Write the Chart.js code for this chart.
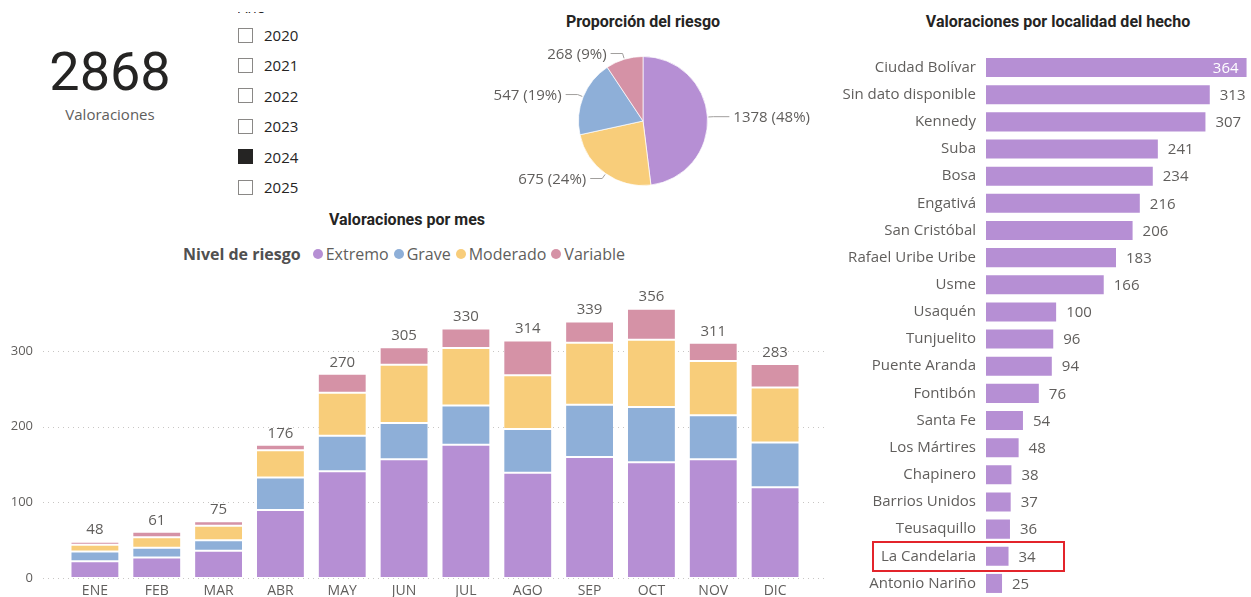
<!DOCTYPE html>
<html>
<head>
<meta charset="utf-8">
<script src="https://cdn.jsdelivr.net/npm/chart.js@4.4.1/dist/chart.umd.min.js"></script>
<style>
body{margin:0;width:1251px;height:597px;position:relative;overflow:hidden;background:#fff;font-family:'Segoe UI','Open Sans',sans-serif;color:#252423;}
.abs{position:absolute;}
.title{font-family:Roboto,sans-serif;font-weight:bold;font-size:16px;color:#252423;white-space:nowrap;}
.kpi{left:0;width:220px;text-align:center;}
.row{left:238px;height:20px;display:flex;align-items:center;font-size:15px;}
.box{width:13px;height:13px;border:1px solid #8a8886;margin-right:11px;box-sizing:content-box;}
.box.on{background:#252423;border-color:#252423;}
.legend{left:183px;top:243px;display:flex;align-items:center;font-size:16px;color:#605E5C;white-space:nowrap;}
.legend b{color:#505050;margin-right:9px;font-weight:bold;}
.dot{width:10px;height:10px;border-radius:50%;display:inline-block;margin:0 3px 0 3px;}
</style>
</head>
<body>
<!-- ========== KPI ========== -->
<div class="abs kpi" style="top:42px;font-family:Roboto,sans-serif;font-size:54px;line-height:60px;color:#252423;">2868</div>
<div class="abs kpi" style="top:104px;font-size:15px;color:#605E5C;">Valoraciones</div>

<!-- ========== Slicer ========== -->
<div class="abs" style="left:238px;top:12px;height:4px;width:60px;overflow:hidden;"><div style="position:absolute;top:-15px;font-size:15px;color:#252423;">Año</div></div>
<div id="slicer"></div>

<!-- ========== Titles ========== -->
<div class="abs title" style="left:643px;top:12px;transform:translateX(-50%);">Proporción del riesgo</div>
<div class="abs title" style="left:407px;top:210px;transform:translateX(-50%);">Valoraciones por mes</div>
<div class="abs title" style="left:1058px;top:12px;transform:translateX(-50%);">Valoraciones por localidad del hecho</div>

<div class="abs legend" id="legend"></div>

<canvas id="pieChart" class="abs" style="left:473px;top:40px;" width="340" height="162"></canvas>
<canvas id="mesChart" class="abs" style="left:0;top:283px;" width="840" height="314"></canvas>
<canvas id="locChart" class="abs" style="left:840px;top:54px;" width="411" height="543"></canvas>

<script>
// ========== Data ==========
const years=['2020','2021','2022','2023','2024','2025'];
const selectedYear='2024';

const months=['ENE','FEB','MAR','ABR','MAY','JUN','JUL','AGO','SEP','OCT','NOV','DIC'];
const extremo=[22,27,36,90,141,157,176,139,160,153,157,120];
const grave=[13,13,14,43,47,48,52,58,69,73,58,59];
const moderado=[9,14,19,36,57,77,76,71,82,89,72,73];
const variable=[4,7,6,7,25,23,26,46,28,41,24,31];
const monthTotals=[48,61,75,176,270,305,330,314,339,356,311,283];
const yTicks=[0,100,200,300];

const riesgoLabels=['Extremo','Moderado','Grave','Variable'];
const riesgoValues=[1378,675,547,268];

const localidades=['Ciudad Bolívar','Sin dato disponible','Kennedy','Suba','Bosa','Engativá','San Cristóbal','Rafael Uribe Uribe','Usme','Usaquén','Tunjuelito','Puente Aranda','Fontibón','Santa Fe','Los Mártires','Chapinero','Barrios Unidos','Teusaquillo','La Candelaria','Antonio Nariño'];
const localidadValues=[364,313,307,241,234,216,206,183,166,100,96,94,76,54,48,38,37,36,34,25];
const highlighted='La Candelaria';

const colors={Extremo:'#B68FD4',Grave:'#8EAFD8',Moderado:'#F8CD7A',Variable:'#D592A6'};
const FONT="'Segoe UI','Open Sans',sans-serif";
const GRAY='#605E5C';

// ========== Slicer & legend ==========
const slicer=document.getElementById('slicer');
years.forEach((y,i)=>{
    const r=document.createElement('div');
    r.className='abs row'; r.style.top=(25+i*30.4)+'px';
    r.innerHTML='<span class="box'+(y===selectedYear?' on':'')+'"></span>'+y;
    slicer.appendChild(r);
});
const legend=document.getElementById('legend');
legend.innerHTML='<b>Nivel de riesgo</b>'+['Extremo','Grave','Moderado','Variable']
    .map(n=>'<span class="dot" style="background:'+colors[n]+'"></span><span style="margin-right:2px">'+n+'</span>').join('');

// ========== Pie ==========
const pieLabels={
    id:'pieLabels',
    afterDatasetsDraw(chart){
        const ctx=chart.ctx, meta=chart.getDatasetMeta(0);
        const total=riesgoValues.reduce((a,b)=>a+b,0);
        ctx.save();
        ctx.font='15px '+FONT; ctx.fillStyle=GRAY; ctx.strokeStyle='#A19F9D'; ctx.lineWidth=1;
        ctx.textBaseline='middle';
        meta.data.forEach((arc,i)=>{
            const a=(arc.startAngle+arc.endAngle)/2, r=arc.outerRadius;
            const c=Math.cos(a), s=Math.sin(a);
            const x0=arc.x+c*(r+1), y0=arc.y+s*(r+1);
            const x1=arc.x+c*(r+6), y1=arc.y+s*(r+6);
            const dir=c>=0?1:-1;
            const x2=x1+dir*(Math.abs(c)>0.95?16:12);
            ctx.beginPath(); ctx.moveTo(x0,y0); ctx.lineTo(x1,y1); ctx.lineTo(x2,y1); ctx.stroke();
            ctx.textAlign=dir>0?'left':'right';
            const pct=Math.round(riesgoValues[i]/total*100);
            ctx.fillText(riesgoValues[i]+' ('+pct+'%)',x2+dir*4,y1+1);
        });
        ctx.restore();
    }
};
new Chart(document.getElementById('pieChart'),{
    type:'pie',
    data:{labels:riesgoLabels,datasets:[{data:riesgoValues,backgroundColor:riesgoLabels.map(n=>colors[n]),borderColor:'rgba(255,255,255,0.7)',borderWidth:1}]},
    options:{responsive:false,animation:false,layout:{padding:{top:16,bottom:16}},
        plugins:{legend:{display:false},tooltip:{enabled:false}}},
    plugins:[pieLabels]
});

// ========== Monthly stacked bars ==========
const dottedGrid={
    id:'dottedGrid',
    beforeDatasetsDraw(chart){
        const ctx=chart.ctx, y=chart.scales.y;
        ctx.save();
        ctx.strokeStyle='#C8C6C4'; ctx.lineWidth=1; ctx.setLineDash([1,4]);
        yTicks.forEach(v=>{
            const py=Math.round(y.getPixelForValue(v))+0.5;
            ctx.beginPath(); ctx.moveTo(43,py); ctx.lineTo(828,py); ctx.stroke();
        });
        ctx.restore();
    }
};
const totalLabels={
    id:'totalLabels',
    afterDatasetsDraw(chart){
        const ctx=chart.ctx, top=chart.getDatasetMeta(chart.data.datasets.length-1);
        ctx.save();
        ctx.font='15px '+FONT; ctx.fillStyle=GRAY; ctx.textAlign='center'; ctx.textBaseline='bottom';
        top.data.forEach((bar,i)=>ctx.fillText(monthTotals[i],bar.x,bar.y-4));
        ctx.restore();
    }
};
const noPad=s=>{s.paddingTop=0;s.paddingBottom=0;s.paddingLeft=0;s.paddingRight=0;};
const series=[['Extremo',extremo],['Grave',grave],['Moderado',moderado],['Variable',variable]];
new Chart(document.getElementById('mesChart'),{
    type:'bar',
    data:{labels:months,datasets:series.map(([n,d])=>({label:n,data:d,backgroundColor:colors[n],
        borderColor:'rgba(255,255,255,0.4)',borderWidth:1,borderSkipped:false,
        categoryPercentage:1,barPercentage:0.79}))},
    options:{responsive:false,animation:false,
        layout:{padding:{right:34}},
        plugins:{legend:{display:false},tooltip:{enabled:false}},
        scales:{
            x:{stacked:true,grid:{display:false,drawTicks:false},border:{display:false},
               ticks:{color:GRAY,font:{size:14,family:FONT},padding:5},
               afterFit:s=>{s.height=19;noPad(s);}},
            y:{stacked:true,min:0,max:390,grid:{display:false,drawTicks:false},border:{display:false},
               afterBuildTicks:s=>{s.ticks=yTicks.map(v=>({value:v}));},
               ticks:{color:GRAY,font:{size:13,family:FONT},padding:31},
               afterFit:s=>{s.width=64;noPad(s);}}
        }},
    plugins:[dottedGrid,totalLabels]
});

// ========== Localidad horizontal bars ==========
const locLabels={
    id:'locLabels',
    afterDatasetsDraw(chart){
        const ctx=chart.ctx, meta=chart.getDatasetMeta(0);
        const maxV=Math.max(...localidadValues);
        ctx.save();
        ctx.font='15px '+FONT; ctx.textBaseline='middle';
        meta.data.forEach((bar,i)=>{
            const v=localidadValues[i];
            if(v===maxV){ctx.fillStyle='#fff'; ctx.textAlign='right'; ctx.fillText(v,bar.x-9,bar.y+1);}
            else{ctx.fillStyle=GRAY; ctx.textAlign='left'; ctx.fillText(v,bar.x+9,bar.y+1);}
        });
        // highlight box
        const idx=localidades.indexOf(highlighted);
        const yc=chart.scales.y.getPixelForValue(idx);
        ctx.strokeStyle='#E3242B'; ctx.lineWidth=2;
        ctx.strokeRect(33,Math.round(yc)-14,191,29);
        ctx.restore();
    }
};
new Chart(document.getElementById('locChart'),{
    type:'bar',
    data:{labels:localidades,datasets:[{data:localidadValues,backgroundColor:colors.Extremo,
        borderColor:'rgba(255,255,255,0.4)',borderWidth:1,borderSkipped:false,
        categoryPercentage:1,barPercentage:0.775}]},
    options:{indexAxis:'y',responsive:false,animation:false,
        layout:{padding:{right:2}},
        plugins:{legend:{display:false},tooltip:{enabled:false}},
        scales:{
            x:{min:0,max:366,display:false},
            y:{grid:{display:false,drawTicks:false},border:{display:false},
               ticks:{color:GRAY,font:{size:15,family:FONT},padding:9,autoSkip:false},
               afterFit:s=>{s.width=145;noPad(s);}}
        }},
    plugins:[locLabels]
});
</script>
</body>
</html>
